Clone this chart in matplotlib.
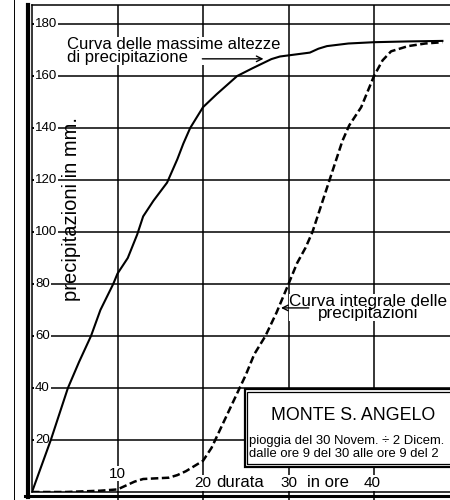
import matplotlib
matplotlib.use('Agg')
import matplotlib.pyplot as plt
from matplotlib.patches import Rectangle
from matplotlib.lines import Line2D

# curva delle massime altezze (ore, mm)
max_hours = [0, 2.2, 3.2, 4.2, 5.5, 6.9, 8, 9.5, 10, 11.2, 12.3, 13, 14.2, 15.8, 17, 17.7,
             18.5, 20, 21.6, 24, 25.8, 28, 29, 32.5, 33.5, 34.5, 37, 40, 44, 48]
max_mm = [0, 20, 30, 40, 50, 60, 70, 80, 84, 90, 99, 106, 112, 119, 128, 134,
          140, 148, 153, 160, 163, 166.5, 167.5, 169, 170.5, 171.5, 172.5, 173, 173.3, 173.5]

# curva integrale delle precipitazioni (ore, mm)
int_hours = [0, 4, 8, 10, 11, 12, 13, 16, 17, 18, 19, 20, 21, 22, 23, 24, 25, 26, 27.3, 28.6,
             30, 31, 32, 32.8, 33.6, 34.8, 35.6, 36.3, 37.1, 38.5, 40, 41, 42, 44, 46, 48]
int_mm = [0, 0, 0.5, 1, 2.5, 4, 5, 5.5, 6.5, 8, 10, 12, 17, 24, 31, 38, 45, 53, 60, 69,
          80, 88, 94, 100, 108, 120, 128, 135, 141, 148, 160, 166, 169.5, 171.5, 172.5, 173]

y_ticks = [20, 40, 60, 80, 100, 120, 140, 160, 180]
x_ticks = [10, 20, 30, 40]

FONT = ['Liberation Sans', 'DejaVu Sans']

fig = plt.figure(figsize=(4.5, 5), dpi=100)
ax = fig.add_axes([32/450, 8/500, 418/450, 487/500])
ax.set_xlim(0, 418/8.55)
ax.set_ylim(0, 487/2.6)

# griglia
for v in y_ticks:
    ax.axhline(v, color='black', lw=1.1, zorder=1)
for v in x_ticks:
    ax.axvline(v, color='black', lw=1.1, zorder=1)

ax.plot(max_hours, max_mm, color='black', lw=1.5, zorder=4.5)
ln, = ax.plot(int_hours, int_mm, color='black', lw=1.8, zorder=4.5)
ln.set_dashes([3.0, 1.4])

ax.set_xticks(x_ticks)
ax.set_yticks(y_ticks)
ax.tick_params(axis='x', direction='out', length=6, width=1.1, labelbottom=False)
ax.tick_params(axis='y', direction='in', length=3, width=1.1, labelleft=False)
ax.spines['right'].set_visible(False)
for s in ['left', 'bottom', 'top']:
    ax.spines[s].set_linewidth(1.1)

wb = dict(facecolor='white', edgecolor='none', pad=0.6)
for v in y_ticks:
    ax.text(0.35, v, str(v), ha='left', va='center', fontsize=9.5, family=FONT,
            bbox=wb, zorder=4)

ax.text(10, 7.1, '10', ha='center', va='center', fontsize=11, family=FONT, bbox=wb, zorder=4)
ax.text(20, 3.5, '20', ha='center', va='center', fontsize=11, family=FONT, bbox=wb, zorder=4)
ax.text(21.6, 3.5, 'durata', ha='left', va='center', fontsize=12, family=FONT, bbox=wb, zorder=4)
ax.text(30, 3.5, '30', ha='center', va='center', fontsize=11, family=FONT, bbox=wb, zorder=4)
ax.text(32.2, 3.5, 'in ore', ha='left', va='center', fontsize=12, family=FONT, bbox=wb, zorder=4)
ax.text(39.8, 3.5, '40', ha='center', va='center', fontsize=11, family=FONT, bbox=wb, zorder=4)

ax.text(4.6, 109, 'precipitazioni in mm.', rotation=90, ha='center', va='center',
        fontsize=14.5, family=FONT, zorder=4)

# etichette delle curve
ax.text(4.1, 175, 'Curva delle massime altezze\ndi precipitazione', ha='left', va='top',
        linespacing=0.8, fontsize=12, family=FONT,
        bbox=dict(facecolor='white', edgecolor='none', pad=0), zorder=4)
ax.annotate('', xy=(27.4, 166.6), xytext=(19.6, 166.6),
            arrowprops=dict(arrowstyle='->', color='black', lw=1.0), zorder=5)

ax.text(39.3, 76.2, 'Curva integrale delle\nprecipitazioni', ha='center', va='top',
        multialignment='center', linespacing=0.8, fontsize=12.3, family=FONT,
        bbox=dict(facecolor='white', edgecolor='none', pad=0), zorder=4)
ax.annotate('', xy=(28.8, 70.8), xytext=(32.7, 70.8),
            arrowprops=dict(arrowstyle='->', color='black', lw=1.0), zorder=5)

# riquadro titolo
ax.add_patch(Rectangle((24.9, 9.6), 40, 30.0, facecolor='white', edgecolor='black',
                       lw=1.6, zorder=5))
ax.add_patch(Rectangle((25.2, 10.8), 40, 27.7, facecolor='none', edgecolor='black',
                       lw=0.9, zorder=5))
ax.text(37.6, 27.7, 'MONTE S. ANGELO', ha='center', va='baseline', fontsize=12.8,
        family=FONT, zorder=6)
ax.text(25.4, 18.5, 'pioggia del 30 Novem. ÷ 2 Dicem.', ha='left', va='baseline',
        fontsize=9.4, family=FONT, zorder=6)
ax.text(25.4, 13.5, 'dalle ore 9 del 30 alle ore 9 del 2', ha='left', va='baseline',
        fontsize=9.4, family=FONT, zorder=6)

# bordi spessi della tavola
fig.add_artist(Line2D([27.5/450, 27.5/450], [3/500, 495/500], transform=fig.transFigure,
                      color='black', lw=3.0))
fig.add_artist(Line2D([25/450, 1], [4/500, 4/500], transform=fig.transFigure,
                      color='black', lw=2.2))
fig.add_artist(Line2D([13.5/450, 13.5/450], [0, 1], transform=fig.transFigure,
                      color='black', lw=0.7))

fig.savefig('out.png', dpi=100, facecolor='white')
